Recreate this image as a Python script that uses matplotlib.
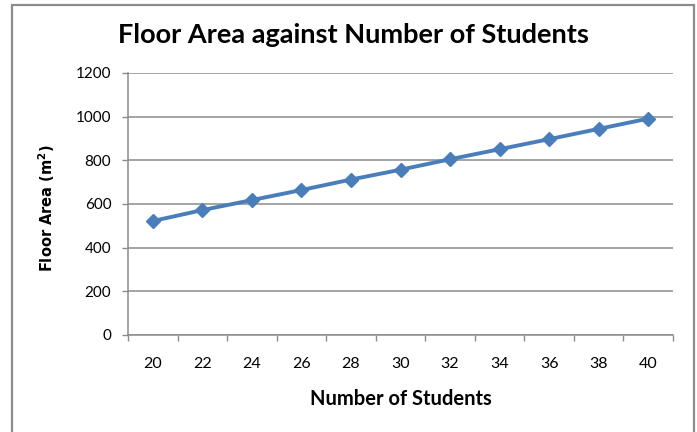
import matplotlib
matplotlib.use("Agg")
import matplotlib.pyplot as plt
from matplotlib.patches import Rectangle

students = [20, 22, 24, 26, 28, 30, 32, 34, 36, 38, 40]
floor_area = [522, 572, 618, 664, 712, 757, 805, 851, 897, 944, 991]
y_ticks = [0, 200, 400, 600, 800, 1000, 1200]

title = "Floor Area against Number of Students"
xlabel = "Number of Students"
ylabel = "Floor Area (m$^\\mathbf{2}$)"

GRID = "#8c8c8c"
BLUE = "#4a7ebb"
FONT = "Lato"

fig = plt.figure(figsize=(6.97, 4.32), dpi=100)
fig.patch.set_facecolor("white")

# outer chart border
fig.patches.append(Rectangle((12/697, -0.1), (694-12)/697, 1.1 - 4.5/432,
                             transform=fig.transFigure, fill=False,
                             edgecolor="#8c8c8c", linewidth=1.6))

ax = fig.add_axes([128/697, 1-335/432, (673-128)/697, (335-73)/432])
pos = list(range(len(students)))
ax.plot(pos, floor_area, color=BLUE, linewidth=2.8, marker="D",
        markersize=7.5, markerfacecolor=BLUE, markeredgecolor=BLUE, zorder=3)

ax.set_xlim(-0.5, len(students) - 0.5)
ax.set_ylim(0, 1200)
ax.set_yticks(y_ticks)
ax.set_yticklabels([str(v) for v in y_ticks], fontfamily=FONT, fontsize=11)
ax.yaxis.grid(True, color=GRID, linewidth=1.1)
ax.set_axisbelow(True)

ax.set_xticks([p - 0.5 for p in pos] + [pos[-1] + 0.5])
ax.set_xticklabels([])
ax.set_xticks(pos, minor=True)
ax.set_xticklabels([str(s) for s in students], minor=True,
                   fontfamily=FONT, fontsize=11.5)
ax.tick_params(axis="x", which="major", length=4, color=GRID, width=1)
ax.tick_params(axis="x", which="minor", length=0, pad=16)
ax.tick_params(axis="y", length=4, color=GRID, width=1, pad=8)

for s in ["top", "right"]:
    ax.spines[s].set_visible(False)
for s in ["left", "bottom"]:
    ax.spines[s].set_color(GRID)
    ax.spines[s].set_linewidth(1.1)

fig.text(353/697, 1-35/432, title, ha="center", va="center",
         fontfamily=FONT, fontweight="bold", fontsize=19.5)
fig.text(401/697, 1-399/432, xlabel, ha="center", va="center",
         fontfamily=FONT, fontweight="bold", fontsize=14.5)
fig.text(47/697, 1-208/432, ylabel, ha="center", va="center", rotation=90,
         fontfamily="DejaVu Sans", fontweight="bold", fontsize=10.5)

fig.savefig("out.png", dpi=100, facecolor="white")
